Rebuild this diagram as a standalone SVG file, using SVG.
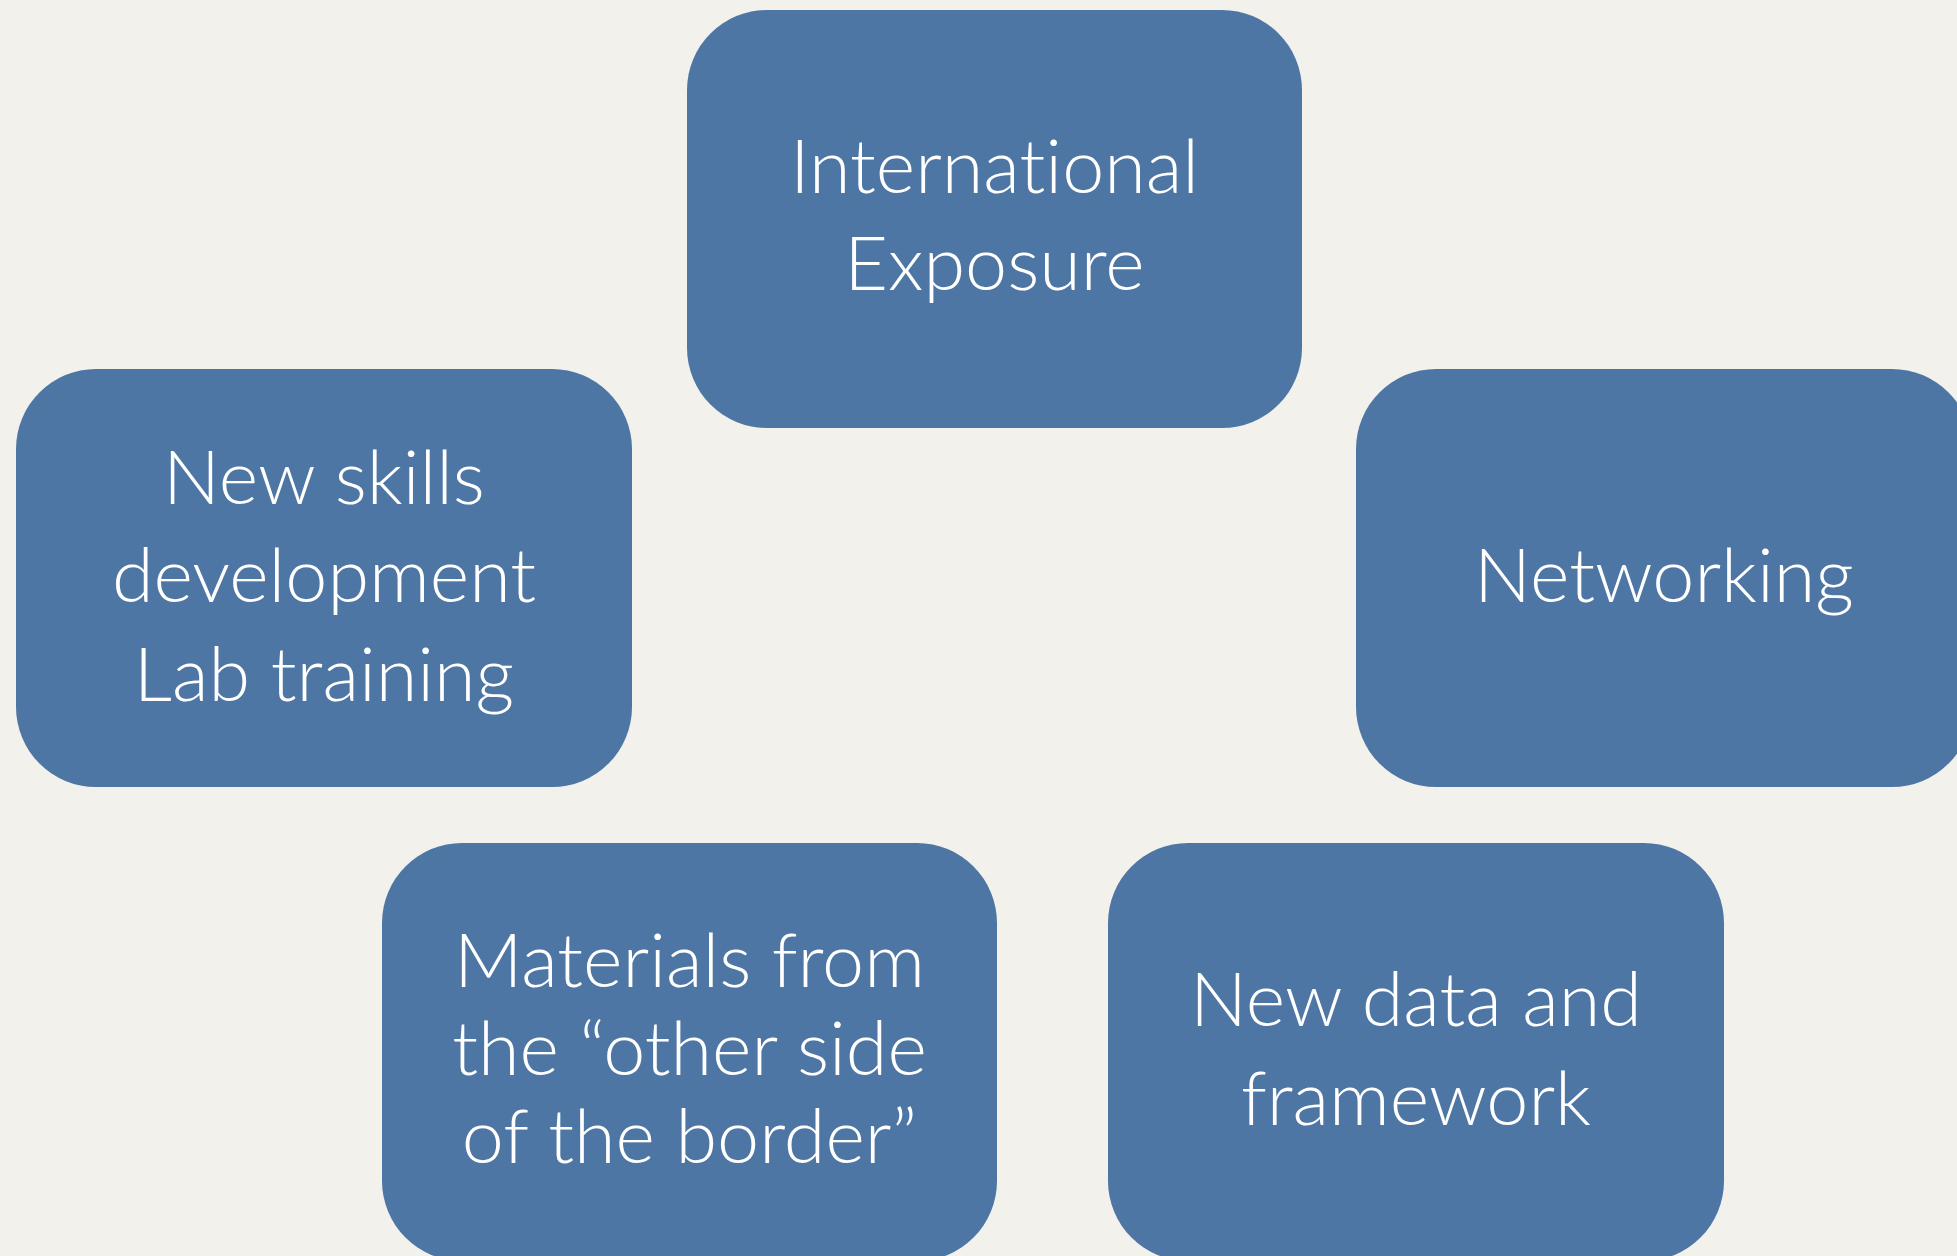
<svg xmlns="http://www.w3.org/2000/svg" width="1957" height="1256" viewBox="0 0 1957 1256">
<style>
.box{fill:#4e76a4;}
.lbl{fill:#ffffff;font-family:Lato,"Open Sans","Liberation Sans",sans-serif;font-weight:300;font-size:75.5px;text-anchor:middle;font-variant-ligatures:none;}
</style>
<rect x="0" y="0" width="1957" height="1256" fill="#f3f1ec"/>
<g id="connectors"></g>
<g id="node-international">
<rect class="box" x="687" y="10" width="615" height="418" rx="80" ry="80"/>
<text class="lbl" x="994.5" y="193">International</text>
<text class="lbl" x="994.5" y="290">Exposure</text>
</g>
<g id="node-skills">
<rect class="box" x="16" y="369" width="616" height="418" rx="80" ry="80"/>
<text class="lbl" x="324" y="504">New skills</text>
<text class="lbl" x="324" y="602">development</text>
<text class="lbl" x="324" y="701">Lab training</text>
</g>
<g id="node-networking">
<rect class="box" x="1356" y="369" width="616" height="418" rx="80" ry="80"/>
<text class="lbl" x="1664" y="602">Networking</text>
</g>
<g id="node-materials">
<rect class="box" x="382" y="843" width="615" height="418" rx="80" ry="80"/>
<text class="lbl" x="689.5" y="987">Materials from</text>
<text class="lbl" x="689.5" y="1075">the “other side</text>
<text class="lbl" x="689.5" y="1163">of the border”</text>
</g>
<g id="node-newdata">
<rect class="box" x="1108" y="843" width="616" height="418" rx="80" ry="80"/>
<text class="lbl" x="1416" y="1026">New data and</text>
<text class="lbl" x="1416" y="1125">framework</text>
</g>
</svg>
